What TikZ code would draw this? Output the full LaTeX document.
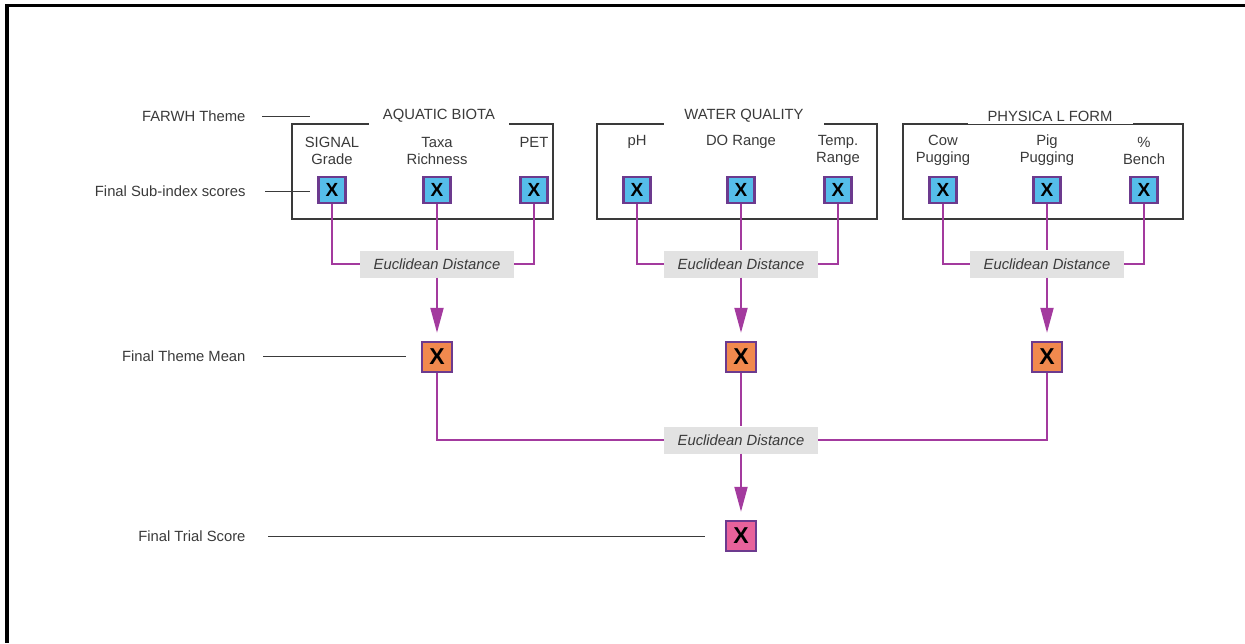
\documentclass[tikz,border=0pt]{standalone}
\usepackage{fontspec}
\setmainfont{Liberation Sans}
\usetikzlibrary{arrows.meta}

\definecolor{linkpurple}{HTML}{A33A9E}
\definecolor{boxedge}{HTML}{6C3A8E}
\definecolor{subblue}{HTML}{55BDEA}
\definecolor{meanorange}{HTML}{F1894E}
\definecolor{trialpink}{HTML}{E8629B}
\definecolor{edgray}{HTML}{E2E2E2}
\definecolor{labelgray}{HTML}{3A3A3A}

\begin{document}
\begin{tikzpicture}[
    x=1pt, y=-1pt,
    font=\fontsize{14.8}{17}\selectfont,
    every node/.style={align=center, text=labelgray},
    subbox/.style={
        rectangle,
        draw=boxedge,
        fill=subblue,
        line width=2.4pt,
        minimum width=27pt,
        minimum height=26pt,
        inner sep=0pt,
        text=black,
        font=\fontsize{19}{19}\selectfont\bfseries
    },
    meanbox/.style={
        subbox,
        fill=meanorange,
        minimum width=30pt,
        minimum height=30pt,
        font=\fontsize{23}{23}\selectfont\bfseries
    },
    trialbox/.style={
        meanbox,
        fill=trialpink
    },
    edbox/.style={
        rectangle,
        fill=edgray,
        minimum width=154pt,
        minimum height=27pt,
        inner sep=0pt,
        font=\fontsize{14.8}{17}\selectfont\itshape
    },
    themetitle/.style={fill=white, inner xsep=20pt, inner ysep=3pt},
    themeframe/.style={draw=labelgray, line width=1.1pt},
    lead/.style={draw=labelgray, line width=1pt},
    link/.style={draw=linkpurple, line width=2pt},
    arr/.style={link, -{Triangle[length=25pt,width=13pt]}, shorten >=8pt},
]

\useasboundingbox (0,0) rectangle (1245,643);

% Page frame
\draw[line width=3.5pt] (1245,5.5) -- (7,5.5) -- (7,643);

% Theme frames
\draw[themeframe] (292,124) rectangle (553,219);
\draw[themeframe] (597,124) rectangle (877,219);
\draw[themeframe] (903,124) rectangle (1183,219);

\node[themetitle, inner xsep=14pt] (bio) at (439,116) {AQUATIC BIOTA};
\node[themetitle] (wq)   at (744,116)  {WATER QUALITY};
\node[themetitle] (phys) at (1050,116) {PHYSICA L FORM};

% Row labels
\node[anchor=east] (farwh) at (249,116) {FARWH Theme};
\node[anchor=east] (sublab) at (249,191) {Final Sub-index scores};
\node[anchor=east] (meanlab) at (249,356) {Final Theme Mean};
\node[anchor=east] (triallab) at (249,536) {Final Trial Score};

% Sub-index names
\node (signalname) at (332,150.5) {SIGNAL\\Grade};
\node (taxaname)   at (437,150.5) {Taxa\\Richness};
\node (petname)    at (534,142)   {PET};
\node (phname)     at (637,142)   {pH};
\node (doname)     at (741,142)   {DO Range};
\node (tempname)   at (838,150.5) {Temp.\\Range};
\node (cowname)    at (943,150.5) {Cow\\Pugging};
\node (pigname)    at (1047,150.5) {Pig\\Pugging};
\node (benchname)  at (1144,150.5) {\%\\Bench};

% Sub-index scores
\node[subbox] (signal) at (332,190)  {X};
\node[subbox] (taxa)   at (437,190)  {X};
\node[subbox] (pet)    at (534,190)  {X};
\node[subbox] (ph)     at (637,190)  {X};
\node[subbox] (do)     at (741,190)  {X};
\node[subbox] (temp)   at (838,190)  {X};
\node[subbox] (cow)    at (943,190)  {X};
\node[subbox] (pig)    at (1047,190) {X};
\node[subbox] (bench)  at (1144,190) {X};

% Euclidean distance per theme
\node[edbox] (edbio)  at (437,264)  {Euclidean Distance};
\node[edbox] (edwq)   at (741,264)  {Euclidean Distance};
\node[edbox] (edphys) at (1047,264) {Euclidean Distance};

% Theme means
\node[meanbox] (meanbio)  at (437,357)  {X};
\node[meanbox] (meanwq)   at (741,357)  {X};
\node[meanbox] (meanphys) at (1047,357) {X};

% Overall
\node[edbox] (edall) at (741,440) {Euclidean Distance};
\node[trialbox] (trial) at (741,536) {X};

% Leader lines
\draw[lead] ([xshift=13pt]farwh.east) -- ([xshift=61pt]farwh.east);
\draw[lead] ([xshift=16pt]sublab.east) -- ([xshift=61pt]sublab.east);
\draw[lead] ([xshift=14pt]meanlab.east) -- ([xshift=-15pt]meanlab.east -| meanbio.west);
\draw[lead] ([xshift=19pt]triallab.east) -- ([xshift=-20pt]triallab.east -| trial.west);

% Connections
\draw[link] (signal.south) |- (edbio.west);
\draw[link] (taxa.south) -- (edbio.north);
\draw[link] (pet.south) |- (edbio.east);
\draw[arr] (edbio.south) -- (meanbio.north);

\draw[link] (ph.south) |- (edwq.west);
\draw[link] (do.south) -- (edwq.north);
\draw[link] (temp.south) |- (edwq.east);
\draw[arr] (edwq.south) -- (meanwq.north);

\draw[link] (cow.south) |- (edphys.west);
\draw[link] (pig.south) -- (edphys.north);
\draw[link] (bench.south) |- (edphys.east);
\draw[arr] (edphys.south) -- (meanphys.north);

\draw[link] (meanbio.south) |- (edall.west);
\draw[link] (meanwq.south) -- (edall.north);
\draw[link] (meanphys.south) |- (edall.east);
\draw[arr] (edall.south) -- (trial.north);

\end{tikzpicture}
\end{document}
